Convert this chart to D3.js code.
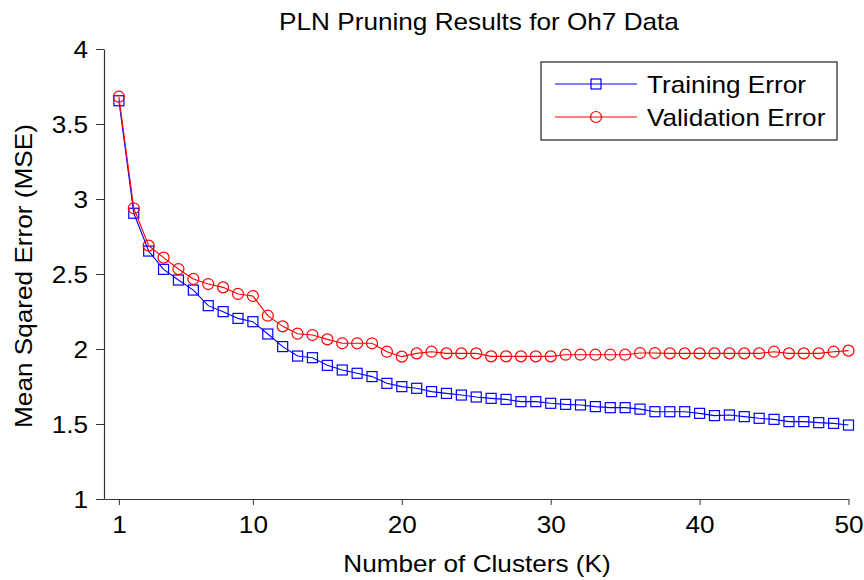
<!DOCTYPE html>
<html>
<head>
<meta charset="utf-8">
<script src="https://cdn.jsdelivr.net/npm/d3@7"></script>
<style>
  html, body { margin: 0; padding: 0; background: #fff; }
  text { font-family: "Liberation Sans", Arial, sans-serif; fill: #000; }
</style>
</head>
<body>
<svg id="chart" width="864" height="580"></svg>
<script>
// ---- data ----
const clusters = d3.range(1, 51);
const trainingError = [
  3.655, 2.905, 2.653, 2.531, 2.46, 2.393, 2.289, 2.249, 2.204, 2.182,
  2.10, 2.016, 1.953, 1.942, 1.891, 1.86, 1.838, 1.816, 1.771, 1.749,
  1.738, 1.716, 1.704, 1.693, 1.680, 1.671, 1.664, 1.649, 1.649, 1.638,
  1.631, 1.627, 1.616, 1.609, 1.609, 1.599, 1.582, 1.582, 1.582, 1.571,
  1.556, 1.560, 1.549, 1.538, 1.531, 1.516, 1.516, 1.509, 1.504, 1.493
];
const validationError = [
  3.682, 2.938, 2.689, 2.609, 2.533, 2.467, 2.433, 2.411, 2.367, 2.353,
  2.222, 2.151, 2.102, 2.093, 2.064, 2.038, 2.038, 2.038, 1.982, 1.949,
  1.971, 1.982, 1.971, 1.971, 1.971, 1.951, 1.951, 1.951, 1.951, 1.951,
  1.962, 1.962, 1.962, 1.962, 1.962, 1.973, 1.973, 1.971, 1.971, 1.971,
  1.971, 1.971, 1.971, 1.971, 1.982, 1.971, 1.971, 1.971, 1.982, 1.989
];
const xTicks = [1, 10, 20, 30, 40, 50];
const yTicks = [1, 1.5, 2, 2.5, 3, 3.5, 4];
const seriesNames = ["Training Error", "Validation Error"];
const seriesColors = ["#0000ff", "#ff0000"];

// ---- layout ----
const svg = d3.select("#chart");
const x = d3.scaleLinear().domain([0, 50]).range([104, 848.5]);
const y = d3.scaleLinear().domain([1, 4]).range([499, 49]);
const axisColor = "#333";
const FS = 24;
const SQ = 10;   // square marker side
const CR = 5.5;  // circle marker radius

// axes
const gx = svg.append("g").attr("transform", `translate(0,${y(1)})`)
  .call(d3.axisBottom(x).tickValues(xTicks).tickSize(6).tickSizeOuter(0).tickPadding(11).tickFormat(d => String(d)));
const gy = svg.append("g").attr("transform", `translate(${x(0)},0)`)
  .call(d3.axisLeft(y).tickValues(yTicks).tickSize(8).tickSizeOuter(0).tickPadding(8).tickFormat(d => String(d)));
[gx, gy].forEach(g => {
  g.selectAll("path.domain").attr("stroke", axisColor).attr("stroke-width", 1.2);
  g.selectAll(".tick line").attr("stroke", axisColor).attr("stroke-width", 1);
  g.selectAll(".tick text").attr("font-size", FS).attr("font-family", "Liberation Sans, Arial, sans-serif").attr("fill", "#000");
});
gy.selectAll(".tick text").attr("dy", "0.36em");

// series
const seriesData = [trainingError, validationError];
const line = d3.line().x((d, i) => x(clusters[i])).y(d => y(d));
seriesData.forEach((vals, si) => {
  const g = svg.append("g");
  g.append("path").datum(vals).attr("d", line)
    .attr("fill", "none").attr("stroke", seriesColors[si]).attr("stroke-width", 1.1);
  if (si === 0) {
    g.selectAll("rect").data(vals).join("rect")
      .attr("x", (d, i) => x(clusters[i]) - SQ / 2).attr("y", d => y(d) - SQ / 2)
      .attr("width", SQ).attr("height", SQ)
      .attr("fill", "none").attr("stroke", seriesColors[si]).attr("stroke-width", 1.2);
  } else {
    g.selectAll("circle").data(vals).join("circle")
      .attr("cx", (d, i) => x(clusters[i])).attr("cy", d => y(d)).attr("r", CR)
      .attr("fill", "none").attr("stroke", seriesColors[si]).attr("stroke-width", 1.2);
  }
});

// title and labels
svg.append("text").attr("x", 479).attr("y", 30)
  .attr("text-anchor", "middle").attr("font-size", FS).text("PLN Pruning Results for Oh7 Data");
svg.append("text").attr("x", 477).attr("y", 572)
  .attr("text-anchor", "middle").attr("font-size", FS).text("Number of Clusters (K)");
svg.append("text").attr("transform", "translate(32,276) rotate(-90)")
  .attr("text-anchor", "middle").attr("font-size", FS).text("Mean Sqared Error (MSE)");

// legend
const lg = svg.append("g");
lg.append("rect").attr("x", 541).attr("y", 62).attr("width", 296).attr("height", 78)
  .attr("fill", "#fff").attr("stroke", "#222").attr("stroke-width", 1.2);
seriesNames.forEach((name, i) => {
  const ly = 84 + i * 33;
  lg.append("line").attr("x1", 555).attr("x2", 637).attr("y1", ly).attr("y2", ly)
    .attr("stroke", seriesColors[i]).attr("stroke-width", 1.1);
  if (i === 0) {
    lg.append("rect").attr("x", 596 - SQ / 2).attr("y", ly - SQ / 2).attr("width", SQ).attr("height", SQ)
      .attr("fill", "none").attr("stroke", seriesColors[i]).attr("stroke-width", 1.2);
  } else {
    lg.append("circle").attr("cx", 596).attr("cy", ly).attr("r", CR)
      .attr("fill", "none").attr("stroke", seriesColors[i]).attr("stroke-width", 1.2);
  }
  lg.append("text").attr("x", 647).attr("y", ly + 8.5)
    .attr("font-size", FS).text(name);
});

// slight horizontal stretch of all text, as in the reference
const SX = 1.09;
svg.selectAll("text").each(function () {
  const w = this.getComputedTextLength();
  d3.select(this).attr("textLength", w * SX).attr("lengthAdjust", "spacingAndGlyphs");
});
</script>
</body>
</html>
